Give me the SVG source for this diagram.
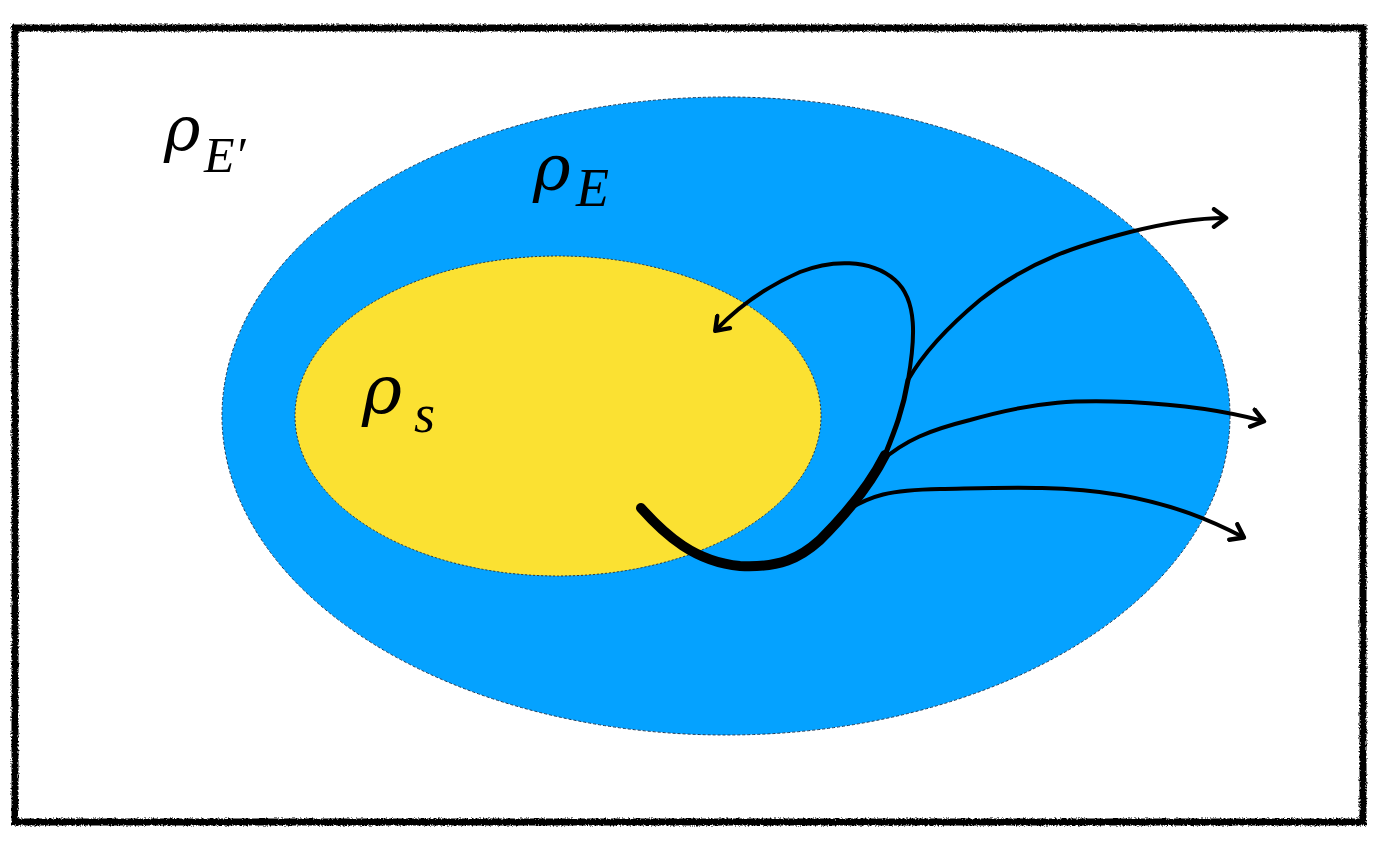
<svg xmlns="http://www.w3.org/2000/svg" width="1396" height="864" viewBox="0 0 1396 864">
<defs>
<style>
.lbl{font-family:"Liberation Serif","Times New Roman",serif;font-style:italic;fill:#000}
.rho{font-family:"DejaVu Serif","Liberation Serif",serif;font-style:italic;fill:#000}
.ln{fill:none;stroke:#000;stroke-linecap:round;stroke-linejoin:round}
</style>
<filter id="rough" x="-5%" y="-5%" width="110%" height="110%">
<feTurbulence type="fractalNoise" baseFrequency="0.6" numOctaves="2" seed="3" result="n"/>
<feDisplacementMap in="SourceGraphic" in2="n" scale="4" xChannelSelector="R" yChannelSelector="G"/>
</filter>
<marker id="ah" viewBox="0 0 20 20" refX="14" refY="10" markerWidth="22" markerHeight="22" markerUnits="userSpaceOnUse" orient="auto">
<path d="M4,2 L15,10 L4,18" fill="none" stroke="#000" stroke-width="4" stroke-linecap="round" stroke-linejoin="round"/>
</marker>
</defs>
<rect width="1396" height="864" fill="#fff"/>
<g id="frame">
<rect x="15" y="28" width="1348" height="794" fill="none" stroke="#000" stroke-width="7" filter="url(#rough)"/>
</g>
<g id="env-prime">
<text class="rho" x="164" y="150" font-size="62">ρ</text>
<text class="lbl" x="204" y="172" font-size="50">E′</text>
</g>
<g id="env">
<ellipse cx="726" cy="416" rx="504" ry="319" fill="#05A2FF" stroke="#1a3a5a" stroke-width="1" stroke-dasharray="3,2"/>
<text class="rho" x="533" y="190" font-size="64">ρ</text>
<text class="lbl" x="576" y="206" font-size="54">E</text>
</g>
<g id="system">
<ellipse cx="558" cy="416" rx="263" ry="160" fill="#FBE132" stroke="#333" stroke-width="1" stroke-dasharray="2,2"/>
<text class="rho" x="362" y="413" font-size="68">ρ</text>
<text class="lbl" x="414" y="432" font-size="54">s</text>
</g>
<g id="connectors">
<path class="ln" stroke-width="10" d="M641,508 C665,535 695,562 740,566 C780,568 800,558 820,540 C845,515 870,485 885,455"/>
<path class="ln" stroke-width="5" d="M885,455 C895,430 903,410 908,380"/>
<path class="ln" stroke-width="4" d="M908,380 C915,340 918,300 895,280 C870,258 830,260 800,272 C770,285 740,305 716,330" marker-end="url(#ah)"/>
<path class="ln" stroke-width="4" d="M908,380 C925,350 950,325 980,300 C1030,260 1080,245 1130,232 C1170,222 1200,218 1225,218" marker-end="url(#ah)"/>
<path class="ln" stroke-width="4" d="M880,462 C905,440 930,430 970,420 C1040,400 1080,400 1130,402 C1190,405 1230,412 1263,421" marker-end="url(#ah)"/>
<path class="ln" stroke-width="4" d="M845,512 C870,495 890,490 940,489 C1000,488 1060,485 1120,495 C1175,505 1210,520 1243,537" marker-end="url(#ah)"/>
</g>
</svg>
